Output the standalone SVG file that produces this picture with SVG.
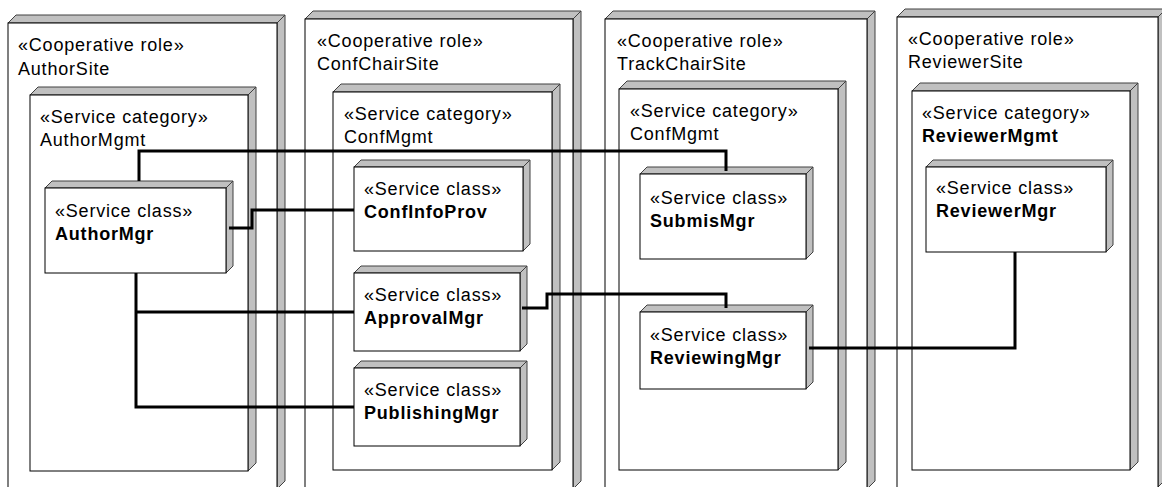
<svg xmlns="http://www.w3.org/2000/svg" width="1162" height="487" viewBox="0 0 1162 487">
<style>
.front{fill:#ffffff;stroke:#000000;stroke-width:1}
.side{fill:#c0c0c0;stroke:#404040;stroke-width:1;stroke-linejoin:miter}
.t{font-family:"Liberation Sans",Arial,sans-serif;font-size:18px;letter-spacing:0.8px;fill:#000000}
.b{font-weight:bold}
.conn{fill:none;stroke:#000000;stroke-width:3;stroke-linejoin:miter;stroke-linecap:butt}
</style>
<rect x="0" y="0" width="1162" height="487" fill="#ffffff"/>

<g id="AuthorSite">
<polygon class="side" points="8,23 16,15 285,15 277,23"/>
<polygon class="side" points="277,23 285,15 285,481 277,489"/>
<rect class="front" x="8" y="23" width="269" height="466"/>
<text class="t" x="18" y="51">«Cooperative role»</text>
<text class="t" x="18" y="75">AuthorSite</text>
</g>
<g id="ConfChairSite">
<polygon class="side" points="305,19 313,11 581,11 573,19"/>
<polygon class="side" points="573,19 581,11 581,481 573,489"/>
<rect class="front" x="305" y="19" width="268" height="470"/>
<text class="t" x="317" y="47">«Cooperative role»</text>
<text class="t" x="317" y="70">ConfChairSite</text>
</g>
<g id="TrackChairSite">
<polygon class="side" points="605,19 613,11 875,11 867,19"/>
<polygon class="side" points="867,19 875,11 875,481 867,489"/>
<rect class="front" x="605" y="19" width="262" height="470"/>
<text class="t" x="617" y="47">«Cooperative role»</text>
<text class="t" x="617" y="70">TrackChairSite</text>
</g>
<g id="ReviewerSite">
<polygon class="side" points="897,17 905,9 1166,9 1158,17"/>
<polygon class="side" points="1158,17 1166,9 1166,479 1158,487"/>
<rect class="front" x="897" y="17" width="261" height="472"/>
<text class="t" x="908" y="45">«Cooperative role»</text>
<text class="t" x="908" y="68">ReviewerSite</text>
</g>

<g id="AuthorMgmt">
<polygon class="side" points="30,95 38,87 256,87 248,95"/>
<polygon class="side" points="248,95 256,87 256,463 248,471"/>
<rect class="front" x="30" y="95" width="218" height="376"/>
<text class="t" x="40" y="123">«Service category»</text>
<text class="t" x="40" y="146">AuthorMgmt</text>
</g>
<g id="ConfMgmt1">
<polygon class="side" points="333,92 341,84 560,84 552,92"/>
<polygon class="side" points="552,92 560,84 560,462 552,470"/>
<rect class="front" x="333" y="92" width="219" height="378"/>
<text class="t" x="344" y="120">«Service category»</text>
<text class="t" x="344" y="143">ConfMgmt</text>
</g>
<g id="ConfMgmt2">
<polygon class="side" points="619,89 627,81 846,81 838,89"/>
<polygon class="side" points="838,89 846,81 846,462 838,470"/>
<rect class="front" x="619" y="89" width="219" height="381"/>
<text class="t" x="630" y="117">«Service category»</text>
<text class="t" x="630" y="140">ConfMgmt</text>
</g>
<g id="ReviewerMgmt">
<polygon class="side" points="912,91 920,83 1138,83 1130,91"/>
<polygon class="side" points="1130,91 1138,83 1138,462 1130,470"/>
<rect class="front" x="912" y="91" width="218" height="379"/>
<text class="t" x="922" y="119">«Service category»</text>
<text class="t b" x="922" y="142">ReviewerMgmt</text>
</g>

<g id="AuthorMgr">
<polygon class="side" points="45,188 52,181 233,181 226,188"/>
<polygon class="side" points="226,188 233,181 233,266 226,273"/>
<rect class="front" x="45" y="188" width="181" height="85"/>
<text class="t" x="55" y="217">«Service class»</text>
<text class="t b" x="55" y="240">AuthorMgr</text>
</g>
<g id="ConfInfoProv">
<polygon class="side" points="354,167 361,160 530,160 523,167"/>
<polygon class="side" points="523,167 530,160 530,244 523,251"/>
<rect class="front" x="354" y="167" width="169" height="84"/>
<text class="t" x="364" y="195">«Service class»</text>
<text class="t b" x="364" y="218">ConfInfoProv</text>
</g>
<g id="ApprovalMgr">
<polygon class="side" points="354,273 361,266 527,266 520,273"/>
<polygon class="side" points="520,273 527,266 527,344 520,351"/>
<rect class="front" x="354" y="273" width="166" height="78"/>
<text class="t" x="364" y="301">«Service class»</text>
<text class="t b" x="364" y="324">ApprovalMgr</text>
</g>
<g id="PublishingMgr">
<polygon class="side" points="354,368 361,361 527,361 520,368"/>
<polygon class="side" points="520,368 527,361 527,439 520,446"/>
<rect class="front" x="354" y="368" width="166" height="78"/>
<text class="t" x="364" y="396">«Service class»</text>
<text class="t b" x="364" y="419">PublishingMgr</text>
</g>
<g id="SubmisMgr">
<polygon class="side" points="640,174 647,167 813,167 806,174"/>
<polygon class="side" points="806,174 813,167 813,252 806,259"/>
<rect class="front" x="640" y="174" width="166" height="85"/>
<text class="t" x="650" y="204">«Service class»</text>
<text class="t b" x="650" y="227">SubmisMgr</text>
</g>
<g id="ReviewingMgr">
<polygon class="side" points="640,312 647,305 813,305 806,312"/>
<polygon class="side" points="806,312 813,305 813,382 806,389"/>
<rect class="front" x="640" y="312" width="166" height="77"/>
<text class="t" x="650" y="341">«Service class»</text>
<text class="t b" x="650" y="364">ReviewingMgr</text>
</g>
<g id="ReviewerMgr">
<polygon class="side" points="926,167 933,160 1113,160 1106,167"/>
<polygon class="side" points="1106,167 1113,160 1113,245 1106,252"/>
<rect class="front" x="926" y="167" width="180" height="85"/>
<text class="t" x="936" y="194">«Service class»</text>
<text class="t b" x="936" y="217">ReviewerMgr</text>
</g>

<g id="connectors">
<path class="conn" d="M139,181 V151 H726 V171"/>
<path class="conn" d="M229,228 H252 V210 H354"/>
<path class="conn" d="M136,273 V407 H354"/>
<path class="conn" d="M136,312 H354"/>
<path class="conn" d="M522,308 H547 V294 H726 V308"/>
<path class="conn" d="M809,348 H1015 V252"/>
</g>
</svg>
